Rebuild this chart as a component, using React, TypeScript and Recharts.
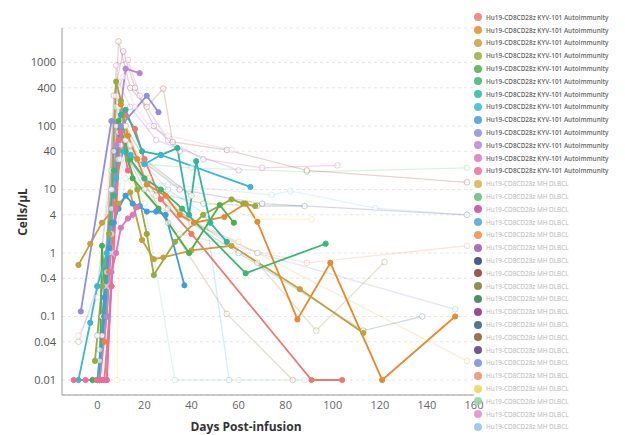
import { LineChart, Line, XAxis, YAxis, CartesianGrid } from 'recharts';

// days post-infusion vs cells/µL
const X_TICKS = [0, 20, 40, 60, 80, 100, 120, 140, 160];
const Y_TICKS = [0.01, 0.04, 0.1, 0.4, 1, 4, 10, 40, 100, 400, 1000];

const AUTO_LABEL = 'Hu19-CD8CD28z KYV-101 Autoimmunity';
const DLBCL_LABEL = 'Hu19-CD8CD28z MH DLBCL';

// ── KYV-101 autoimmunity patients ──
const A1 = [[-2, 0.01], [3, 0.01], [6, 0.3], [9, 60], [12, 150], [16, 90], [20, 30], [27, 7], [40, 2], [91, 0.01], [104, 0.01]];
const A2 = [[3, 0.04], [5, 0.5], [8, 6], [10, 220], [13, 70], [17, 30], [21, 12], [29, 8], [35, 4], [41, 3], [54, 3.7], [63, 6], [68, 3.1], [85, 0.09], [99, 0.7], [121, 0.01], [152, 0.1]];
const A3 = [[-8, 0.65], [-3, 1.4], [2, 3], [9, 6], [14, 9], [19, 1.6], [24, 0.8], [28, 0.85], [40, 1.1], [57, 1.3], [86, 0.27], [113, 0.055]];
const A4 = [[-1, 0.02], [2, 0.3], [5, 2], [8, 500], [10, 250], [13, 30], [17, 10], [21, 2], [24, 0.45], [33, 1.5], [45, 4], [57, 7], [62, 6], [67, 5.5]];
const A5 = [[-2, 0.01], [1, 0.01], [2, 1.3], [4, 0.1], [6, 3], [9, 120], [12, 40], [15, 15], [26, 5], [39, 1], [52, 5.7], [58, 3]];
const A6 = [[1, 0.01], [3, 0.1], [7, 20], [10, 90], [14, 30], [20, 15], [27, 10], [36, 5], [63, 0.48], [97, 1.4]];
const A7 = [[0, 0.01], [3, 0.1], [7, 8], [10, 150], [12, 180], [19, 40], [27, 35], [34, 45], [39, 4], [42, 28], [48, 3], [55, 1.5]];
const A8 = [[-8, 0.01], [-3, 0.08], [0, 0.3], [4, 1], [8, 15], [11, 40], [14, 35], [20, 25], [27, 35], [65, 11]];
const A9 = [[1, 0.01], [3, 0.2], [5, 1.2], [7, 3], [9, 5], [12, 8], [15, 6], [18, 5.5], [21, 4.5], [25, 4.5], [29, 4], [37, 0.31]];
const A10 = [[-7, 0.12], [6, 120], [10, 100], [21, 300], [26, 165]];
const A11 = [[1, 0.01], [4, 0.1], [8, 50], [12, 800], [18, 680]];
const A12 = [[0, 0.01], [4, 0.01], [6, 0.5], [8, 1], [10, 2.5], [13, 3.5], [15, 4], [17, 5.3]];
const A13 = [[-10, 0.01], [-5, 0.01], [0, 0.01], [2, 0.01], [4, 0.01], [6, 0.3], [8, 5], [10, 80], [13, 20]];

// ── MH DLBCL patients (drawn faded) ──
const D1 = [[0, 0.01], [5, 0.3], [9, 30], [15, 10], [68, 1], [157, 0.02]];
const D2 = [[0, 0.01], [4, 0.5], [8, 200], [12, 40], [20, 25], [40, 22], [89, 19], [157, 22]];
const D3 = [[2, 0.05], [8, 900], [13, 1100], [18, 300], [30, 60], [45, 30], [70, 22], [102, 24]];
const D4 = [[0, 0.01], [6, 10], [11, 100], [18, 30], [30, 10], [46, 4], [56, 0.01]];
const D5 = [[2, 0.1], [9, 200], [14, 50], [22, 15], [40, 3], [60, 1.5]];
const D6 = [[3, 0.3], [9, 500], [14, 200], [25, 60], [60, 20]];
const D7 = [[1, 0.02], [7, 40], [12, 100], [20, 30], [40, 8]];
const D8 = [[5, 1], [9, 2150], [14, 400], [21, 200], [28, 390], [32, 56], [55, 42], [89, 20], [157, 13]];
const D9 = [[-8, 0.04], [0, 0.3], [6, 20], [12, 60], [25, 8], [68, 0.7], [93, 0.06], [122, 0.72]];
const D10 = [[1, 0.01], [6, 5], [10, 50], [20, 10], [45, 6], [68, 5.5], [88, 5.5]];
const D11 = [[2, 0.05], [7, 300], [11, 1500], [16, 400], [24, 100], [35, 40]];
const D12 = [[1, 0.03], [8, 100], [13, 30], [30, 5], [60, 1], [113, 0.06], [138, 0.1]];
const D13 = [[0, 0.05], [8, 50], [14, 30], [30, 3], [55, 0.11], [83, 0.01]];
const D14 = [[2, 0.1], [9, 80], [14, 40], [35, 10], [70, 6], [157, 4]];
const D15 = [[0, 0.05], [6, 10], [12, 60], [20, 15], [40, 3], [68, 1], [152, 0.13]];
const D16 = [[2, 0.01], [8, 50], [13, 20], [35, 2], [89, 0.7], [157, 1.3]];
const D17 = [[8.5, 0.01], [9, 5], [12, 100], [18, 30], [40, 8], [68, 3.4], [91, 3.4]];
const D18 = [[1, 0.01], [6, 2], [10, 30], [20, 6], [33, 0.01], [60, 0.01], [88, 0.01]];
const D19 = [[-8, 0.05], [0, 0.2], [8, 300], [11, 600], [16, 200], [22, 100], [30, 70], [57, 42]];
const D20 = [[1, 0.01], [7, 1], [12, 15], [30, 12], [74, 8.2], [82, 9.5], [118, 5.1], [157, 4]];

const AUTO_COLORS = ['#ea7a72', '#e58a2e', '#c5a03c', '#9aab3d', '#4caf4c', '#3db573', '#2fb5a0', '#37b8d6', '#3e9de0', '#8f8fdc', '#b985d6', '#de77be', '#ee6b9a'];
const DLBCL_COLORS = ['#d9b44a', '#63bf72', '#c24b9e', '#4aa3dd', '#ec8d4d', '#9b59b6', '#2c3e7a', '#8b3a2a', '#857a3a', '#2e7d4f', '#8e2c7e', '#35607a', '#8a5a2b', '#5a3a80', '#7b8ed6', '#ef8a6b', '#f0d050', '#8fd3a0', '#e38ac8', '#8cc4ea'];

const AUTO_SERIES = [A1, A2, A3, A4, A5, A6, A7, A8, A9, A10, A11, A12, A13];
const DLBCL_SERIES = [D1, D2, D3, D4, D5, D6, D7, D8, D9, D10, D11, D12, D13, D14, D15, D16, D17, D18, D19, D20];

const toPoints = (pairs: number[][]) => pairs.map(([day, value]) => ({ day, value }));

const FONT = '"Open Sans", "Liberation Sans", sans-serif';

export default function App() {
  const legendRows = [
    ...AUTO_COLORS.map((c) => ({ color: c, label: AUTO_LABEL, faded: false })),
    ...DLBCL_COLORS.map((c) => ({ color: c, label: DLBCL_LABEL, faded: true })),
  ];

  return (
    <div style={{ position: 'absolute', left: 0, top: 0, width: 625, height: 435, overflow: 'hidden', background: '#fff', fontFamily: FONT }}>
      <LineChart width={625} height={435} margin={{ top: 28, right: 151, bottom: 0, left: 0 }}>
        <CartesianGrid vertical={false} stroke="#e6e6e6" strokeDasharray="3 3" />
        <XAxis
          type="number"
          dataKey="day"
          domain={[-15, 160]}
          ticks={X_TICKS}
          height={40}
          tickSize={4}
          tickLine={false}
          axisLine={{ stroke: '#9a9a9a' }}
          tick={{ fill: '#666', fontSize: 11, fontFamily: FONT }}
          allowDuplicatedCategory={false}
        />
        <YAxis
          type="number"
          scale="log"
          domain={[0.0058, 3500]}
          allowDataOverflow
          ticks={Y_TICKS}
          width={62}
          tickSize={4}
          tickLine={false}
          axisLine={{ stroke: '#9a9a9a' }}
          tick={{ fill: '#555', fontSize: 11, fontFamily: FONT }}
          tickFormatter={(v) => String(v)}
        />
        {DLBCL_SERIES.map((s, i) => (
          <Line
            key={'d' + i}
            data={toPoints(s)}
            dataKey="value"
            name={DLBCL_LABEL}
            stroke={DLBCL_COLORS[i]}
            strokeOpacity={0.22}
            strokeWidth={1.3}
            dot={{ r: 2.8, fill: '#fff', fillOpacity: 0.6, stroke: DLBCL_COLORS[i], strokeOpacity: 0.3, strokeWidth: 1 }}
            isAnimationActive={false}
          />
        ))}
        {AUTO_SERIES.map((s, i) => (
          <Line
            key={'a' + i}
            data={toPoints(s)}
            dataKey="value"
            name={AUTO_LABEL}
            stroke={AUTO_COLORS[i]}
            strokeWidth={1.8}
            dot={{ r: 2.6, fill: AUTO_COLORS[i], stroke: AUTO_COLORS[i], strokeWidth: 1 }}
            isAnimationActive={false}
          />
        ))}
      </LineChart>

      {/* axis titles */}
      <div style={{ position: 'absolute', left: 22, top: 212, transform: 'translate(-50%, -50%) rotate(-90deg)', fontSize: 12, fontWeight: 700, color: '#333', whiteSpace: 'nowrap' }}>
        Cells/µL
      </div>
      <div style={{ position: 'absolute', left: 246, top: 426, transform: 'translate(-50%, -50%)', fontSize: 12, fontWeight: 700, color: '#333', whiteSpace: 'nowrap' }}>
        Days Post-infusion
      </div>

      {/* legend */}
      <div style={{ position: 'absolute', left: 474, top: 11, width: 151 }}>
        {legendRows.map((r, i) => (
          <div key={i} style={{ height: 12.8, display: 'flex', alignItems: 'center', whiteSpace: 'nowrap' }}>
            <span style={{ display: 'inline-block', width: 8, height: 8, borderRadius: 4, background: r.color, opacity: 0.85, marginRight: 4, flexShrink: 0 }} />
            <span style={{ fontSize: 6.4, color: r.faded ? '#b5b5b5' : '#666', fontWeight: r.faded ? 400 : 600 }}>{r.label}</span>
          </div>
        ))}
      </div>
    </div>
  );
}
